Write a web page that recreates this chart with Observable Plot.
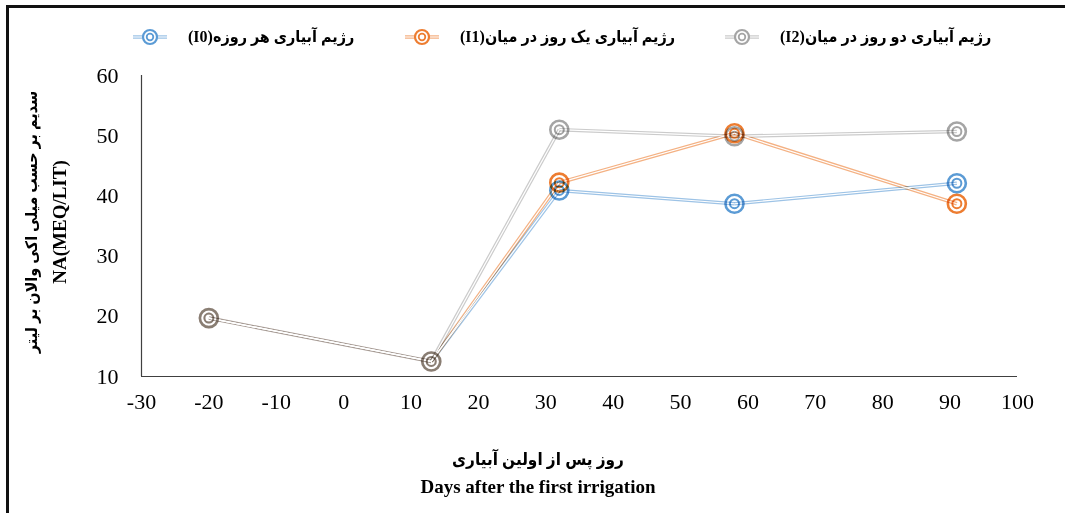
<!DOCTYPE html>
<html>
<head>
<meta charset="utf-8">
<script src="https://cdn.jsdelivr.net/npm/d3@7"></script>
<script src="https://cdn.jsdelivr.net/npm/@observablehq/plot@0.6"></script>
<style>
  body { margin: 0; background: #fff; }
  #wrap { position: relative; width: 1065px; height: 513px; overflow: hidden; background: #fff;
          font-family: "Liberation Serif", "DejaVu Sans Condensed", "DejaVu Sans", serif; color: #000; }
  #frame { position: absolute; left: 6px; top: 5px; width: 1200px; height: 700px;
           border-left: 3px solid #111; border-top: 3px solid #111; pointer-events: none; }
  #chart { position: absolute; left: 0; top: 0; }
  .leg { position: absolute; top: 26px; height: 22px; }
  .leg svg { position: absolute; left: 0; top: 0; }
  .leg span { position: absolute; top: 0; white-space: nowrap; font-weight: bold; font-size: 16px; line-height: 22px; }
  #ytitle { position: absolute; left: -104px; top: 194px; width: 300px; height: 56px; line-height: 28px;
            text-align: center; transform: rotate(-90deg); font-weight: bold; }
  #ytitle .fa { font-size: 16px; }
  #ytitle .en { font-size: 19px; }
  #xtitle { position: absolute; left: 338px; top: 446px; width: 400px; text-align: center; font-weight: bold; line-height: 27px; }
  #xtitle .fa { font-size: 17px; }
  #xtitle .en { font-size: 19px; }
</style>
</head>
<body>
<div id="wrap">
  <div id="chart"></div>
  <div id="legend"></div>
  <div id="ytitle"><div class="fa" dir="rtl">سدیم بر حسب میلی اکی والان بر لیتر</div><div class="en">NA(MEQ/LIT)</div></div>
  <div id="xtitle"><div class="fa" dir="rtl">روز پس از اولین آبیاری</div><div class="en">Days after the first irrigation</div></div>
  <div id="frame"></div>
</div>
<script>
// ---- data ----
const days = [-20, 13, 32, 58, 91];
const seriesNames = ["I0", "I1", "I2"];
const valuesI0 = [19.7, 12.5, 40.9, 38.7, 42.1];
const valuesI1 = [19.7, 12.5, 42.2, 50.4, 38.7];
const valuesI2 = [19.7, 12.5, 51.0, 49.9, 50.7];
const legendLabels = ["رژیم آبیاری هر روزه(I0)", "رژیم آبیاری یک روز در میان(I1)", "رژیم آبیاری دو روز در میان(I2)"];
const xTicks = [-30, -20, -10, 0, 10, 20, 30, 40, 50, 60, 70, 80, 90, 100];
const yTicks = [10, 20, 30, 40, 50, 60];

// ---- styles ----
const markerColors = ["#5B9BD5", "#ED7D31", "#A5A5A5"];
const lineColors = ["#9DC3E6", "#F4B183", "#CBCBCB"];
const legendLeft = [133, 405, 725];

const allValues = [valuesI0, valuesI1, valuesI2];
const shareCount = (i) => allValues.filter(v => v[i] === allValues[0][i]).length;

const points = [];
const segments = [];
seriesNames.forEach((s, k) => {
  const vals = allValues[k];
  days.forEach((d, i) => {
    points.push({series: s, k, day: d, value: vals[i], shared: shareCount(i) > 1 && vals[i] === allValues[0][i]});
    if (i > 0) {
      const sh = shareCount(i) > 1 && shareCount(i - 1) > 1 && vals[i] === allValues[0][i] && vals[i - 1] === allValues[0][i - 1];
      segments.push({series: s, k, x1: days[i - 1], y1: vals[i - 1], x2: d, y2: vals[i], shared: sh});
    }
  });
});

const marks = [
  Plot.ruleX([-30], {stroke: "#404040", strokeWidth: 1.2}),
  Plot.ruleY([10], {stroke: "#404040", strokeWidth: 1.2})
];
seriesNames.forEach((s, k) => {
  marks.push(Plot.link(segments.filter(d => d.k === k), {
    x1: "x1", y1: "y1", x2: "x2", y2: "y2",
    stroke: lineColors[k], strokeWidth: 3.6,
    strokeOpacity: d => d.shared ? 0.6 : 1,
    mixBlendMode: "multiply"
  }));
});
seriesNames.forEach((s, k) => {
  marks.push(Plot.link(segments.filter(d => d.k === k), {
    x1: "x1", y1: "y1", x2: "x2", y2: "y2", stroke: "white", strokeWidth: 1.2
  }));
});
seriesNames.forEach((s, k) => {
  const pts = points.filter(d => d.k === k);
  marks.push(Plot.dot(pts, {x: "day", y: "value", r: 9, fill: "none", stroke: markerColors[k], strokeWidth: 2.6,
    strokeOpacity: d => d.shared ? 0.5 : 1, mixBlendMode: "multiply"}));
  marks.push(Plot.dot(pts, {x: "day", y: "value", r: 4.5, fill: "none", stroke: markerColors[k], strokeWidth: 2,
    strokeOpacity: d => d.shared ? 0.5 : 1, mixBlendMode: "multiply"}));
});

const chart = Plot.plot({
  width: 1065, height: 513,
  marginLeft: 141, marginRight: 48, marginTop: 75, marginBottom: 137,
  style: {fontFamily: "Liberation Serif", fontSize: "22px", color: "#000", background: "transparent"},
  x: {domain: [-30, 100], ticks: xTicks, tickSize: 0, tickPadding: 17, label: null, tickFormat: d => String(d)},
  y: {domain: [10, 60], ticks: yTicks, tickSize: 0, tickPadding: 23, label: null},
  opacity: {type: "identity"},
  marks
});
document.getElementById("chart").appendChild(chart);

// ---- legend ----
const legend = document.getElementById("legend");
seriesNames.forEach((s, k) => {
  const item = document.createElement("div");
  item.className = "leg";
  item.style.left = legendLeft[k] + "px";
  const ns = "http://www.w3.org/2000/svg";
  const svg = document.createElementNS(ns, "svg");
  svg.setAttribute("width", 34); svg.setAttribute("height", 22);
  svg.innerHTML =
    `<line x1="0" x2="34" y1="11" y2="11" stroke="${lineColors[k]}" stroke-width="3.6"/>` +
    `<line x1="0" x2="34" y1="11" y2="11" stroke="white" stroke-width="1.2"/>` +
    `<circle cx="17" cy="11" r="7" fill="white" stroke="${markerColors[k]}" stroke-width="2.2"/>` +
    `<circle cx="17" cy="11" r="3.3" fill="none" stroke="${markerColors[k]}" stroke-width="1.8"/>`;
  item.appendChild(svg);
  const span = document.createElement("span");
  span.setAttribute("dir", "rtl");
  span.style.left = "55px";
  span.textContent = legendLabels[k];
  item.appendChild(span);
  legend.appendChild(item);
});
</script>
</body>
</html>
